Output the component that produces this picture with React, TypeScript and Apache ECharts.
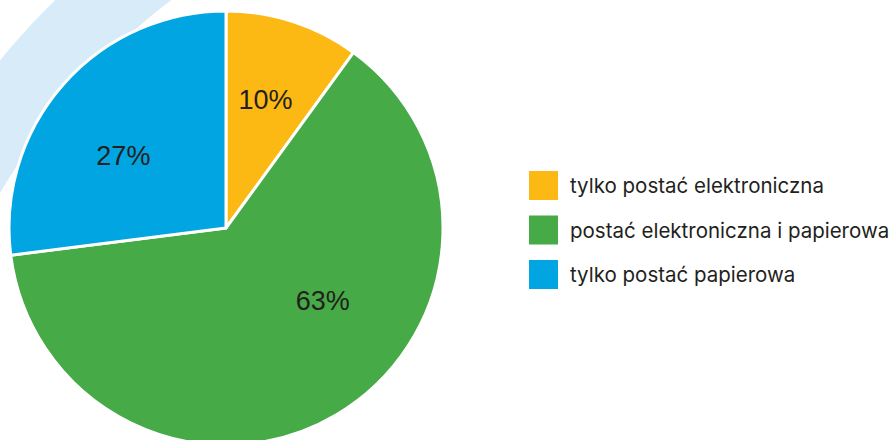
import React, { useEffect, useRef } from "react";
import * as echarts from "echarts";

const categories = [
  "tylko postać elektroniczna",
  "postać elektroniczna i papierowa",
  "tylko postać papierowa",
];
const values = [10, 63, 27];
const colors = ["#FDB913", "#46AA46", "#00A5E1"];
const labelOffsets = [
  [5, -22],
  [40, -23],
  [-19, 2],
];

export default function App() {
  const ref = useRef<HTMLDivElement>(null);
  useEffect(() => {
    if (!ref.current) return;
    const chart = echarts.init(ref.current, null, { renderer: "svg" });
    const font = "'Liberation Sans', Arial, sans-serif";
    chart.setOption({
      animation: false,
      backgroundColor: "#ffffff",
      graphic: [
        {
          type: "ring",
          z: 0,
          silent: true,
          shape: { cx: 575, cy: 531, r: 743, r0: 667 },
          style: { fill: "#D8EBF8" },
        },
      ],
      legend: {
        orient: "vertical",
        left: 527,
        top: 169,
        padding: 0,
        itemWidth: 31,
        itemHeight: 31,
        itemGap: 11.5,
        icon: "rect",
        selectedMode: false,
        data: categories,
        textStyle: {
          fontFamily: "Inter, 'Liberation Sans', sans-serif",
          fontSize: 20.5,
          color: "#231F20",
          padding: [0, 0, 0, 6],
        },
      },
      series: [
        {
          type: "pie",
          z: 2,
          center: [226, 228],
          radius: [0, 217],
          startAngle: 90,
          clockwise: true,
          silent: true,
          emphasis: { disabled: true },
          itemStyle: { borderColor: "#ffffff", borderWidth: 3 },
          label: {
            show: true,
            position: "inside",
            formatter: "{c}%",
            fontFamily: font,
            fontSize: 27,
            color: "#231F20",
          },
          labelLine: { show: false },
          data: categories.map((name, i) => ({
            name,
            value: values[i],
            itemStyle: { color: colors[i] },
            label: { offset: labelOffsets[i] },
          })),
        },
      ],
    });
    return () => chart.dispose();
  }, []);
  return (
    <div
      ref={ref}
      style={{ position: "fixed", left: 0, top: 0, width: 892, height: 440 }}
    />
  );
}
